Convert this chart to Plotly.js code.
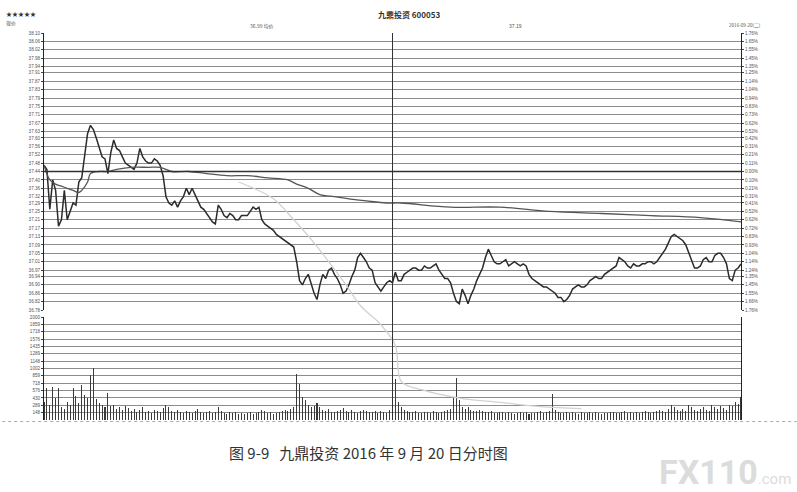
<!DOCTYPE html>
<html><head><meta charset="utf-8">
<script src="https://cdn.plot.ly/plotly-3.0.1.min.js"></script>
<style>body{margin:0;background:#fff}#chart{width:797px;height:492px}</style>
</head><body><div id="chart"></div>
<script>
const stockName = '九鼎投资 600053';
const preClose = 37.44;
const priceTickLabels = ['38.10','38.06','38.02','37.98','37.94','37.91','37.87','37.83','37.79','37.75','37.71','37.67','37.63','37.60','37.56','37.52','37.48','37.44','37.40','37.36','37.32','37.29','37.25','37.21','37.17','37.13','37.09','37.05','37.01','36.97','36.94','36.90','36.86','36.82','36.78'];
const pctTickLabels = ['1.76%','1.65%','1.55%','1.45%','1.35%','1.25%','1.14%','1.04%','0.94%','0.83%','0.73%','0.62%','0.52%','0.42%','0.31%','0.21%','0.11%','0.00%','0.10%','0.21%','0.31%','0.41%','0.52%','0.62%','0.72%','0.83%','0.93%','1.04%','1.14%','1.24%','1.35%','1.45%','1.55%','1.66%','1.76%'];
const volTickLabels = ['2000','1859','1718','1576','1435','1289','1148','1002','859','718','576','430','289','148'];

// 09:30 - 11:30 (one value per minute)
const priceAM = [37.47,37.45,37.26,37.40,37.35,37.18,37.21,37.35,37.21,37.25,
 37.29,37.28,37.39,37.41,37.53,37.62,37.66,37.64,37.60,37.55,
 37.51,37.50,37.43,37.53,37.59,37.55,37.54,37.51,37.48,37.47,
 37.46,37.45,37.48,37.55,37.51,37.49,37.48,37.48,37.50,37.49,
 37.47,37.42,37.32,37.29,37.28,37.30,37.27,37.30,37.32,37.36,
 37.33,37.36,37.33,37.30,37.27,37.26,37.24,37.22,37.20,37.19,
 37.28,37.26,37.23,37.22,37.24,37.23,37.21,37.21,37.23,37.23,
 37.23,37.25,37.27,37.26,37.27,37.21,37.19,37.18,37.17,37.16,
 37.14,37.13,37.12,37.11,37.10,37.09,37.08,37.01,36.92,36.90,
 36.93,36.95,36.90,36.86,36.83,36.90,36.95,36.93,36.97,36.98,
 36.95,36.93,36.90,36.86,36.87,36.90,36.94,36.97,37.03,37.05,
 37.03,37.01,36.98,36.97,36.91,36.89,36.87,36.89,36.91,36.92,
 36.91];
// 13:01 - 15:00
const pricePM = [36.96,36.92,36.92,36.95,36.96,36.97,36.98,36.98,36.97,36.97,
 36.99,36.98,36.98,36.99,37.00,36.97,36.95,36.93,36.93,36.91,
 36.86,36.82,36.81,36.88,36.85,36.81,36.85,36.88,36.92,36.95,
 36.98,37.03,37.07,37.04,37.01,37.00,37.00,37.01,37.02,36.99,
 37.00,37.01,37.00,36.99,37.00,36.99,36.95,36.93,36.92,36.91,
 36.90,36.89,36.89,36.88,36.87,36.86,36.84,36.84,36.82,36.83,
 36.85,36.88,36.89,36.90,36.89,36.89,36.90,36.92,36.93,36.94,
 36.93,36.93,36.95,36.96,36.97,36.98,36.99,37.03,37.02,37.01,
 36.99,36.98,37.00,36.99,36.99,37.00,37.00,37.01,37.01,37.00,
 37.01,37.03,37.05,37.07,37.10,37.13,37.14,37.13,37.12,37.11,
 37.09,37.05,37.01,36.98,36.98,36.99,37.02,37.03,37.01,37.01,
 37.04,37.05,37.05,37.03,37.00,36.93,36.92,36.97,36.98,37.00];

const avgMinute = [0,2,4,6,8,10,12,13,15,16,19,22,25,30,36,40,42,44,50,56,63,70,77,84,87,91,95,100,105,111,118,123,140,157,174,192,209,226,240];
const avgPrice = [37.47,37.40,37.38,37.37,37.36,37.35,37.34,37.35,37.39,37.43,37.44,37.44,37.45,37.46,37.46,37.46,37.45,37.44,37.44,37.43,37.42,37.42,37.41,37.40,37.38,37.36,37.33,37.32,37.31,37.30,37.29,37.29,37.27,37.27,37.25,37.24,37.23,37.22,37.20];

const refMinute = [67,79,86,93,98,104,109,116,121,123,130,143,157,171,185];
const refValue = [37.39,37.31,37.21,37.10,37.01,36.90,36.80,36.71,36.61,36.44,36.40,36.36,36.34,36.32,36.31];

const volume = [350,620,300,640,420,620,250,210,360,300,620,460,330,690,480,430,880,1020,400,330,300,260,520,270,300,210,250,190,280,230,
 180,220,160,200,260,150,180,140,200,170,160,230,300,250,180,150,200,160,140,180,150,130,170,220,160,140,150,180,130,160,
 250,170,140,120,160,130,150,120,140,110,130,160,120,140,150,200,170,130,150,120,140,160,180,200,170,220,250,900,700,450,
 380,300,260,280,330,250,200,180,220,160,150,180,200,240,170,150,190,160,140,180,200,170,150,160,180,140,170,150,130,200,
 300,800,350,250,200,180,160,150,170,140,130,150,160,140,180,150,130,160,170,200,220,450,820,380,260,220,250,200,180,170,
 200,180,160,150,170,140,130,150,160,140,150,130,120,140,160,130,150,120,140,130,150,170,140,160,180,500,200,150,140,130,
 150,140,160,130,120,150,140,130,160,140,150,130,120,140,130,150,160,140,130,150,170,140,160,130,150,140,160,180,150,140,
 160,170,200,180,150,220,300,250,200,180,220,170,300,250,200,180,220,260,200,180,300,250,220,280,240,200,300,280,350,320,450];

const price = priceAM.concat(pricePM);
const minutes = price.map((_, i) => i);
const middayIndex = priceAM.length - 1;
const priceTickVals = priceTickLabels.map(Number);
const volTickVals = volTickLabels.map(Number);
const pMin = priceTickVals[priceTickVals.length - 1], pMax = priceTickVals[0];

const tickFont = {family: 'Liberation Sans, Arial', size: 4.6, color: '#555'};
const gridC = '#8c8c8c';

const traces = [
  {x: minutes, y: volume, type: 'bar', xaxis: 'x', yaxis: 'y2', width: 0.35,
   marker: {color: '#3a3a3a', line: {width: 0}}, hoverinfo: 'skip'},
  {x: refMinute, y: refValue, type: 'scatter', mode: 'lines', xaxis: 'x', yaxis: 'y4',
   line: {color: '#d2d2d2', width: 1.3, shape: 'spline'}, hoverinfo: 'skip'},
  {x: avgMinute, y: avgPrice, type: 'scatter', mode: 'lines', xaxis: 'x', yaxis: 'y3',
   line: {color: '#555', width: 1.3, shape: 'spline'}, hoverinfo: 'skip'},
  {x: minutes, y: price, type: 'scatter', mode: 'lines', xaxis: 'x', yaxis: 'y',
   line: {color: '#2b2b2b', width: 1.5}, hoverinfo: 'skip'}
];

const pxPerPrice = 277 / (pMax - pMin);
const fullLow = pMax - 387 / pxPerPrice;

const layout = {
  width: 797, height: 492,
  margin: {l: 44, r: 56, t: 33, b: 72},
  paper_bgcolor: '#fff', plot_bgcolor: 'rgba(0,0,0,0)',
  showlegend: false, bargap: 0,
  xaxis: {range: [0, minutes.length - 1], showgrid: false, zeroline: false, showticklabels: false,
          ticks: '', showline: false},
  yaxis: {domain: [0.2842, 1], range: [pMin, pMax], tickvals: priceTickVals, ticktext: priceTickLabels,
          showgrid: true, gridcolor: gridC, gridwidth: 1, zeroline: false,
          showline: true, linecolor: '#222', linewidth: 1, ticks: 'outside', ticklen: 2, tickcolor: '#444',
          tickfont: tickFont},
  yaxis3: {overlaying: 'y', anchor: 'x', side: 'right', range: [pMin, pMax], tickvals: priceTickVals, ticktext: pctTickLabels,
          showgrid: false, zeroline: false, showline: true, linecolor: '#222', linewidth: 1,
          ticks: 'outside', ticklen: 2, tickcolor: '#444', tickfont: tickFont},
  yaxis2: {domain: [0, 0.2655], range: [0, 2000], tickvals: volTickVals, ticktext: volTickLabels,
          showgrid: true, gridcolor: gridC, gridwidth: 1, zeroline: false,
          showline: true, mirror: true, linecolor: '#222', linewidth: 1, ticks: 'outside', ticklen: 2, tickcolor: '#444',
          tickfont: tickFont},
  yaxis4: {domain: [0, 1], range: [fullLow, pMax], visible: false, anchor: 'x'},
  shapes: [
    {type: 'line', xref: 'x', yref: 'y', x0: 0, x1: minutes.length - 1, y0: preClose, y1: preClose,
     line: {color: '#333', width: 1.6}},
    {type: 'line', xref: 'x', yref: 'paper', x0: middayIndex, x1: middayIndex, y0: 0, y1: 1,
     line: {color: '#333', width: 1}},
    {type: 'line', xref: 'paper', yref: 'paper', x0: -0.06, x1: 1.08, y0: -0.004, y1: -0.004,
     line: {color: '#aaa', width: 1, dash: 'dot'}}
  ],
  annotations: [
    {text: '★★★★★', xref: 'paper', yref: 'paper', x: -0.058, y: 1.05, xanchor: 'left', yanchor: 'middle',
     showarrow: false, font: {family: 'Noto Sans CJK SC', size: 6, color: '#333'}},
    {text: '现价', xref: 'paper', yref: 'paper', x: -0.058, y: 1.027, xanchor: 'left', yanchor: 'middle',
     showarrow: false, font: {family: 'Noto Sans CJK SC', size: 5, color: '#555'}},
    {text: '<b>' + stockName + '</b>', xref: 'paper', yref: 'paper', x: 0.5236, y: 1.047, xanchor: 'center', yanchor: 'middle',
     showarrow: false, font: {family: 'Noto Sans CJK SC', size: 8, color: '#333'}},
    {text: '36.99 均价', xref: 'paper', yref: 'paper', x: 0.313, y: 1.018, xanchor: 'center', yanchor: 'middle',
     showarrow: false, font: {family: 'Noto Sans CJK SC', size: 5, color: '#555'}},
    {text: '37.19', xref: 'paper', yref: 'paper', x: 0.677, y: 1.018, xanchor: 'center', yanchor: 'middle',
     showarrow: false, font: {family: 'Liberation Sans', size: 5, color: '#555'}},
    {text: '2016-09-20(二)', xref: 'paper', yref: 'paper', x: 1.006, y: 1.02, xanchor: 'center', yanchor: 'middle',
     showarrow: false, font: {family: 'Noto Sans CJK SC', size: 4.6, color: '#555'}},
    {text: '图 9-9   九鼎投资 2016 年 9 月 20 日分时图', xref: 'paper', yref: 'paper', x: 0.466, y: -0.083,
     xanchor: 'center', yanchor: 'middle', showarrow: false,
     font: {family: 'Noto Sans CJK SC', size: 15, color: '#333'}},
    {text: '<b>FX110</b><span style="font-size:15px">.com</span>', xref: 'paper', yref: 'paper', x: 0.977, y: -0.135,
     xanchor: 'center', yanchor: 'middle', showarrow: false,
     font: {family: 'Roboto, Liberation Sans', size: 34, color: '#dcdcdc'}}
  ]
};

Plotly.newPlot('chart', traces, layout, {staticPlot: true, displayModeBar: false});
</script>
</body></html>
